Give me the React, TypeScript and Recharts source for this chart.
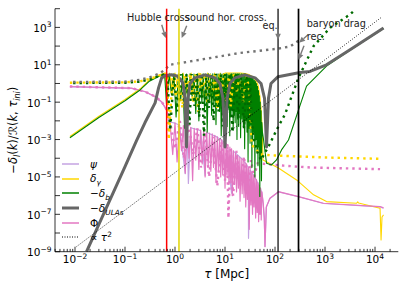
import React from 'react';
import {
  ComposedChart,
  Line,
  XAxis,
  YAxis,
  ReferenceLine,
  ReferenceDot,
  Legend,
} from 'recharts';

type Pt = [number, number];

const FONT = '"DejaVu Sans", sans-serif';

const PINK = '#e377c2';
const LAVENDER = '#c4a3e2';
const GOLD = '#ffd700';
const GREEN = '#008000';
const DARK_GREEN = '#006a00';
const GRAY = '#666666';
const GRAY_DOT = '#737373';
const ARROW = '#7a7a7a';

// tau [Mpc] vs transfer function

// -delta_ULAs, first mode (thick gray)
const ulaK1: Pt[] = [
  [0.017, 1e-9], [0.1, 3.6e-5], [0.17, 8.7e-4], [0.25, 7.9e-3], [0.4, 0.091], [0.47, 0.6],
  [0.54, 2.0], [0.65, 2.7], [0.85, 2.9], [1.1, 2.5], [1.3, 1.6], [1.45, 1.0], [1.58, 0.16],
  [1.7, 4e-4], [1.82, 0.16], [2.0, 1.0], [2.5, 2.0], [4.0, 2.9], [6.3, 2.0], [7.9, 1.0],
  [9.1, 0.16], [10, 4e-4], [11, 0.16], [12.6, 1.0], [15.8, 2.0], [25, 2.9], [40, 2.0],
  [52.5, 1.0], [61.7, 0.16], [67.6, 4e-4], [74, 0.16], [83, 1.0], [115, 2.3], [316, 3.9],
  [500, 4.4], [1070, 10], [3160, 63], [14800, 930],
];

// -delta_b, first mode (green)
const baryonK1: Pt[] = [
  [0.0079, 1.25e-3], [0.03, 1.5e-2], [0.1, 0.12], [0.2, 0.45], [0.3, 1.26], [0.45, 2.2],
  [0.55, 2.8], [0.62, 3.1],
  [0.68, 0.063], [0.76, 3.2], [0.85, 0.25], [0.95, 3.3], [1.05, 0.016], [1.17, 3.2],
  [1.3, 0.126], [1.42, 3.3], [1.55, 0.004], [1.7, 3.2], [1.85, 0.079], [2.0, 3.3],
  [2.2, 0.2], [2.4, 3.2], [2.6, 0.025], [2.8, 3.3], [3.0, 0.01], [3.2, 3.2], [3.45, 0.1],
  [3.65, 3.3], [3.9, 0.04], [4.15, 3.2], [4.4, 0.0025], [4.65, 3.3], [4.9, 0.126],
  [5.15, 3.2], [5.4, 0.02], [5.7, 3.3], [6.0, 0.063], [6.3, 3.2], [6.6, 0.0063], [6.9, 3.3],
  [7.2, 0.1], [7.5, 3.2], [7.8, 0.032], [8.1, 3.3], [8.4, 0.0016], [8.7, 3.2], [9.0, 0.05],
  [9.3, 3.3], [9.6, 0.016],
  [10, 3.2], [10.35, 0.025], [10.7, 3.3], [11.05, 5e-3], [11.4, 3.2], [11.75, 0.05],
  [12.1, 3.3], [12.45, 1.6e-3], [12.8, 3.2], [13.15, 0.016], [13.5, 3.3], [13.85, 0.04],
  [14.2, 3.2], [14.55, 3.2e-3], [14.9, 3.3], [15.25, 0.02], [15.6, 3.2], [15.95, 7.9e-3],
  [16.3, 3.3], [16.65, 0.032], [17, 3.2], [17.35, 1e-3], [17.7, 3.3], [18.05, 0.0126],
  [18.4, 3.2], [18.75, 5e-3], [19.1, 3.3], [19.45, 0.025], [19.8, 3.2], [20.5, 1.26e-3],
  [21.2, 3.3], [21.9, 0.0126], [22.6, 3.2], [23.3, 5e-3], [24, 3.3], [24.7, 3.2e-4],
  [25.4, 3.2], [26.1, 0.01], [26.8, 3.0], [27.5, 2.5e-3], [28.2, 2.8], [28.9, 6.3e-5],
  [29.6, 2.6], [30.3, 4e-3], [31, 2.5], [31.7, 6.3e-4], [32.4, 2.3], [33.1, 6.3e-3],
  [33.8, 2.1], [34.5, 3.2e-5], [35.2, 2.0], [35.9, 1e-3], [36.6, 1.8], [37.6, 2.5e-3],
  [38.6, 1.5], [39.6, 1e-5], [40.6, 1.25], [41.6, 1e-3], [42.6, 1.0], [43.6, 2.5e-4],
  [44.6, 0.7], [45.6, 4e-5], [46.6, 0.42], [47.6, 4e-4], [48.6, 0.22], [49.6, 8.9e-7],
  [50.6, 0.1], [51.6, 1e-4], [52.6, 0.035], [53.6, 6.3e-6], [54.6, 0.008],
  [56, 2.5e-3], [58.9, 1e-3], [67.6, 5.4e-5], [85, 4.4e-5], [107, 8.1e-5],
  [135, 2.8e-4], [186, 9.5e-4], [295, 0.039], [427, 0.72], [1070, 8.5], [3160, 60],
  [14800, 880],
];

// delta_gamma, first mode (gold)
const photonK1: Pt[] = [
  [0.0079, 1.45e-3], [0.03, 1.75e-2], [0.1, 0.14], [0.2, 0.52], [0.3, 1.45], [0.45, 2.5],
  [0.55, 3.2], [0.62, 3.6], [0.7, 0.4], [0.78, 3.6], [0.9, 0.3], [1.0, 3.6], [1.25, 0.1],
  [1.45, 3.6], [1.8, 0.2], [2.1, 3.6], [2.6, 0.08], [3.0, 3.6], [3.9, 0.15], [4.5, 3.6],
  [5.4, 0.1], [6.2, 3.6], [7.2, 0.05], [8.0, 3.6], [9.0, 0.12], [10, 3.6], [20, 3.6],
  [25, 3.4], [30, 3.0], [35, 2.4], [40, 1.6], [43, 1.2], [46, 0.75], [50, 0.2], [53, 0.035],
  [55.5, 3e-3], [57.5, 8.1e-5], [117, 3e-5], [270, 6.9e-6], [590, 1.1e-6], [1070, 4.8e-7],
  [4270, 3.9e-7], [4500, 4.6e-7], [4700, 4.0e-7], [12600, 2.1e-7], [13200, 4.3e-9],
  [13800, 7.2e-8], [14800, 9.3e-8],
];

// Phi, first mode (pink)
const phiK1: Pt[] = [
  [0.0079, 0.69], [0.135, 0.56], [0.25, 0.37], [0.4, 0.2], [0.54, 0.107], [0.68, 0.039],
  [0.79, 9.1e-3], [0.9, 1.58e-4], [1.0, 7.9e-3], [1.1, 6.3e-5], [1.22, 6.3e-3], [1.35, 2.5e-4],
  [1.47, 5.6e-3], [1.6, 1.58e-5], [1.75, 5.0e-3], [1.9, 1e-4], [2.07, 4.5e-3], [2.25, 6.3e-6],
  [2.42, 4.0e-3], [2.6, 7.9e-5], [2.8, 3.5e-3], [3.0, 2.5e-5], [3.25, 3.2e-3], [3.5, 5.0e-5],
  [3.75, 2.8e-3], [4.0, 1e-5], [4.3, 2.5e-3], [4.6, 4.0e-5], [4.9, 2.2e-3], [5.2, 2.0e-5],
  [5.55, 2.0e-3], [5.9, 3.2e-5], [6.25, 1.66e-3], [6.6, 5.0e-6], [7.0, 1.4e-3], [7.4, 2.0e-5],
  [7.8, 1.12e-3], [8.2, 1e-5], [8.6, 1e-3], [9.0, 1.26e-5], [9.5, 7.9e-4], [10, 2.5e-6],
  [10.5, 6.3e-4], [11, 1e-5], [11.5, 5.0e-4], [12, 4.0e-6], [12.5, 4.0e-4], [13, 6.3e-6],
  [13.5, 3.2e-4], [14, 1e-6], [14.7, 2.5e-4], [15.5, 4.0e-6], [16.2, 1.9e-4], [17, 1.58e-6],
  [17.7, 1.4e-4], [18.5, 2.5e-6], [19.2, 1.12e-4], [20, 5.0e-7], [21, 1e-4], [22, 1.26e-6],
  [23, 8.3e-5], [24, 7.9e-7], [25, 6.3e-5], [26, 2.5e-7], [27, 5.0e-5], [28, 6.3e-7],
  [29.2, 3.5e-5], [30.5, 1.58e-8], [31.7, 2.5e-5], [33, 3.2e-7], [34.2, 1.8e-5], [35.5, 1e-7],
  [36.7, 1.26e-5], [38, 2.5e-7], [39.5, 1e-5], [41, 6.3e-8], [42.5, 7.1e-6], [44, 1.26e-7],
  [45.5, 5.0e-6], [47, 4.0e-8], [48.5, 3.5e-6], [50, 1e-7], [51.5, 2.5e-6], [53, 5.0e-8],
  [54.5, 1.58e-6], [58, 4.0e-7], [61, 6.3e-8], [63, 1.86e-9], [67, 2.5e-7], [79, 7.2e-7],
  [117, 1.62e-6], [295, 8.9e-7], [930, 3.9e-7], [12600, 2.6e-7], [14800, 2.2e-7],
];

// psi, first mode (lavender, mostly under Phi)
const psiK1: Pt[] = [
  [0.0079, 0.66], [0.135, 0.54], [0.25, 0.36], [0.4, 0.19], [0.54, 0.1], [0.68, 0.037],
  [0.79, 8.7e-3], [1.0, 7.5e-3], [1.22, 6e-3], [1.6, 1.5e-5], [1.75, 4.8e-3], [1.85, 4.5e-6],
  [2.07, 4.3e-3], [3.25, 3e-3], [4.0, 1.2e-5], [4.3, 2.4e-3], [7.0, 1.35e-3], [10.5, 6e-4],
  [13.5, 1.35e-6], [14.7, 2.4e-4], [23, 8e-5], [29.2, 3.3e-5], [29.5, 5.2e-9], [31.7, 2.4e-5],
  [42.5, 6.8e-6], [54.5, 1.5e-6], [58, 3.8e-7], [61, 6e-8], [63, 1.9e-9], [67, 2.4e-7],
  [79, 7e-7], [117, 1.58e-6], [295, 8.7e-7], [930, 3.8e-7], [12600, 2.5e-7], [14800, 2.1e-7],
];

// second mode (dotted curves)
const phiK2: Pt[] = [
  [0.0079, 0.69], [0.135, 0.56], [0.25, 0.37], [0.4, 0.2], [0.54, 0.107], [0.68, 0.04],
  [0.8, 8e-3], [1.0, 3.2e-4], [1.25, 1e-2], [1.5, 1e-4], [1.9, 6.3e-3], [2.3, 1.58e-4],
  [2.8, 4e-3], [3.3, 3.2e-5], [4.0, 2.5e-3], [4.8, 1e-5], [5.8, 1.4e-3], [7.0, 3.2e-6],
  [8.5, 7.9e-4], [10, 6.3e-6], [11, 6.3e-4], [11.7, 6.3e-8], [13, 4e-4], [14.5, 1e-6],
  [17, 2.5e-4], [20, 3.2e-6], [24, 1.26e-4], [28, 1e-6], [33, 7.9e-5], [38, 1e-5],
  [45, 5.4e-5], [60, 5e-5], [150, 4e-5], [500, 3.2e-5], [12600, 2.6e-5],
];

const photonK2: Pt[] = [
  [0.0079, 1.1], [0.1, 1.15], [0.2, 1.3], [0.32, 1.8], [0.45, 2.5], [0.6, 3.2], [0.7, 3.5],
  [0.75, 1e-3], [0.9, 3.2], [1.05, 0.2], [1.2, 3.2], [1.4, 0.05], [1.6, 3.2], [1.8, 0.5],
  [2.0, 3.2], [2.3, 0.1], [2.6, 3.2], [2.9, 0.03], [3.2, 3.5], [3.6, 0.4], [4.0, 3.5],
  [4.5, 0.08], [5.0, 3.5], [5.6, 0.3], [6.2, 3.5], [7.0, 0.05], [7.8, 3.5], [8.6, 0.4],
  [9.5, 3.5], [10.5, 0.1], [12, 3.5], [13, 0.06], [15, 3.5], [17, 0.3], [20, 3.5],
  [23, 0.1], [27, 3.2], [31, 0.3], [33, 3e-3], [34.2, 5.2e-4], [39.8, 3.5e-4], [50, 1.6e-4],
  [100, 1.4e-4], [1000, 1.1e-4], [12600, 9.3e-5],
];

const baryonK2: Pt[] = [
  [0.0079, 1.05], [0.1, 1.1], [0.2, 1.25], [0.32, 1.7], [0.45, 2.4], [0.6, 3.0], [0.7, 3.1],
  [0.8, 3.2e-3], [0.95, 3.2], [1.12, 0.032], [1.3, 3.2], [1.5, 0.126], [1.7, 3.2],
  [1.95, 6.3e-3], [2.15, 3.2], [2.45, 0.063], [2.75, 3.2], [3.05, 0.016], [3.4, 3.2],
  [3.8, 1.6e-3], [4.2, 3.2], [4.75, 0.05], [5.3, 3.2], [5.9, 0.01], [6.6, 3.2], [7.4, 0.032],
  [8.2, 3.2], [9.0, 5e-3], [10, 3.2], [11, 0.025], [12.5, 3.2], [14, 2.5e-3], [16, 3.2],
  [18.5, 0.0126], [21, 3.2], [24, 4e-3], [27, 2.8], [30, 7.9e-3], [32, 1.0], [34, 0.01],
  [38, 1e-3], [44.7, 2e-4], [52.5, 7.9e-5], [63, 2e-4], [74, 4.2e-4], [100, 2.2e-3],
  [117, 5e-3], [158, 0.022], [295, 2.0], [590, 100], [1260, 950], [3160, 4900], [4100, 9500],
];

const ulaK2: Pt[] = [
  [0.0079, 1.2], [0.1, 1.26], [0.2, 1.58], [0.32, 2.2], [0.5, 3.5], [0.63, 5.6], [0.79, 10],
  [3.16, 18.6], [20, 43], [107, 71], [200, 95], [300, 200],
];

const tauSquared: Pt[] = [[0.0107, 1.86e-9], [13500, 3500]];

// vertical markers (tau)
const HUBBLE_CROSS = 0.68;
const SOUND_CROSS = 1.2;
const EQUALITY = 115;
const RECOMBINATION = 295;

const annotations = [
  { text: 'Hubble cross', x: 0.11, y: 2270 },
  { text: 'sound hor. cross.', x: 1.58, y: 2270 },
  { text: 'eq.', x: 56, y: 800 },
  { text: 'baryon drag', x: 430, y: 1020 },
  { text: 'rec.', x: 430, y: 219 },
];

const arrows: { from: Pt; to: Pt }[] = [
  { from: [0.542, 1387], to: [0.652, 269] },
  { from: [1.714, 1230], to: [1.36, 269] },
  { from: [115, 800], to: [115, 219] },
  { from: [457, 405], to: [302, 151] },
  { from: [380, 104], to: [295, 18.6] },
];

const X_DOMAIN: [number, number] = [0.00398, 29200];
const Y_DOMAIN: [number, number] = [1e-9, 1e4];
const xMajor = [1e-2, 1e-1, 1, 10, 100, 1000, 10000];
const yDecades = [1e-9, 1e-8, 1e-7, 1e-6, 1e-5, 1e-4, 1e-3, 1e-2, 1e-1, 1, 10, 100, 1000, 10000];

const xMinor: number[] = [];
for (const d of [1e-3, ...xMajor]) {
  for (let m = 2; m <= 9; m++) {
    const v = d * m;
    if (v >= X_DOMAIN[0] && v <= X_DOMAIN[1]) xMinor.push(v);
  }
}
const xTicks = [...xMajor, ...xMinor].sort((a, b) => a - b);

const toRows = (pts: Pt[]) => pts.map(([x, y]) => ({ x, y }));

const isDecade = (v: number) => Math.abs(Math.log10(v) - Math.round(Math.log10(v))) < 1e-6;
const expText = (e: number) => (e < 0 ? `\u2212${-e}` : `${e}`);

const Pow10 = ({ x, y, e, anchor }: { x: number; y: number; e: number; anchor: string }) => (
  <text x={x} y={y} textAnchor={anchor} fontFamily={FONT} fontSize={10.5} fill="#000">
    10
    <tspan dy={-4.5} fontSize={7.5}>{expText(e)}</tspan>
  </text>
);

const BottomTick = ({ x, y, payload }: any) => {
  const v = payload.value;
  const major = isDecade(v);
  return (
    <g>
      <line x1={x} x2={x} y1={y} y2={y - (major ? 5 : 2.8)} stroke="#000" strokeWidth={0.8} />
      {major && <Pow10 x={x} y={y + 11.5} e={Math.round(Math.log10(v))} anchor="middle" />}
    </g>
  );
};

const TopTick = ({ x, y, payload }: any) => {
  const major = isDecade(payload.value);
  return <line x1={x} x2={x} y1={y} y2={y + (major ? 5 : 2.8)} stroke="#000" strokeWidth={0.8} />;
};

const LeftTick = ({ x, y, payload }: any) => {
  const e = Math.round(Math.log10(payload.value));
  return (
    <g>
      <line x1={x} x2={x + 5} y1={y} y2={y} stroke="#000" strokeWidth={0.8} />
      {Math.abs(e) % 2 === 1 && <Pow10 x={x - 3.5} y={y + 4.5} e={e} anchor="end" />}
    </g>
  );
};

const RightTick = ({ x, y }: any) => (
  <line x1={x} x2={x - 5} y1={y} y2={y} stroke="#000" strokeWidth={0.8} />
);

const XLabel = (props: any) => {
  const vb = props.viewBox || { x: 55, y: 251.7, width: 343.3 };
  return (
    <text x={vb.x + vb.width / 2} y={vb.y + 26.5} textAnchor="middle" fontFamily={FONT} fontSize={12} fill="#000">
      <tspan fontStyle="italic">τ</tspan> [Mpc]
    </text>
  );
};

const YLabel = (props: any) => {
  const vb = props.viewBox || { x: 0, y: 8.7, height: 243 };
  const cx = vb.x + 17.5;
  const cy = vb.y + vb.height / 2;
  return (
    <text
      x={cx}
      y={cy}
      textAnchor="middle"
      transform={`rotate(-90, ${cx}, ${cy})`}
      fontFamily={FONT}
      fontSize={11.5}
      fill="#000"
    >
      {'\u2212'}
      <tspan fontStyle="italic">δ</tspan>
      <tspan dy={3} fontSize={8} fontStyle="italic">l</tspan>
      <tspan dy={-3}>(</tspan>
      <tspan fontStyle="italic">k</tspan>
      <tspan>)/ℛ(</tspan>
      <tspan fontStyle="italic">k</tspan>
      <tspan>, </tspan>
      <tspan fontStyle="italic">τ</tspan>
      <tspan dy={3} fontSize={8} fontStyle="italic">ini</tspan>
      <tspan dy={-3}>)</tspan>
    </text>
  );
};

const arrowShape = (p: any) => {
  const { x1, y1, x2, y2 } = p;
  const a = Math.atan2(y2 - y1, x2 - x1);
  const L = 6;
  const W = 2.8;
  const bx = x2 - L * Math.cos(a);
  const by = y2 - L * Math.sin(a);
  const pts = `${x2},${y2} ${bx - W * Math.sin(a)},${by + W * Math.cos(a)} ${bx + W * Math.sin(a)},${by - W * Math.cos(a)}`;
  return (
    <g>
      <line x1={x1} y1={y1} x2={bx} y2={by} stroke={ARROW} strokeWidth={1.4} />
      <polygon points={pts} fill={ARROW} />
    </g>
  );
};

const textShape = (text: string) => (p: any) => (
  <text x={p.cx} y={p.cy} fontFamily={FONT} fontSize={9.7} fill="#222">
    {text}
  </text>
);

const sub = (s: string) => (
  <sub style={{ fontSize: '0.7em', lineHeight: 0, fontStyle: 'italic' }}>{s}</sub>
);

const legendItems = [
  { name: 'psi', color: LAVENDER, width: 1.5, dash: undefined, label: <i>ψ</i> },
  { name: 'photon', color: GOLD, width: 1.5, dash: undefined, label: <><i>δ</i>{sub('γ')}</> },
  { name: 'baryon', color: GREEN, width: 1.5, dash: undefined, label: <>−<i>δ</i>{sub('b')}</> },
  { name: 'ula', color: GRAY, width: 3, dash: undefined, label: <>−<i>δ</i>{sub('ULAs')}</> },
  { name: 'phi', color: PINK, width: 1.5, dash: undefined, label: <>Φ</> },
  { name: 'tau2', color: '#000', width: 1, dash: '1 1.5', label: <>∝ <i>τ</i><sup style={{ fontSize: '0.7em', lineHeight: 0 }}>2</sup></> },
];

const renderLegend = () => (
  <div style={{ fontFamily: FONT, fontSize: 10.5, color: '#000' }}>
    {legendItems.map((it) => (
      <div key={it.name} style={{ display: 'flex', alignItems: 'center', height: 14.7 }}>
        <svg width={17} height={6} style={{ display: 'block' }}>
          <line x1={0} y1={3} x2={17} y2={3} stroke={it.color} strokeWidth={it.width} strokeDasharray={it.dash} />
        </svg>
        <span style={{ marginLeft: 11, lineHeight: 1 }}>{it.label}</span>
      </div>
    ))}
  </div>
);

const common = {
  type: 'linear' as const,
  dataKey: 'y',
  dot: false,
  activeDot: false,
  isAnimationActive: false,
  legendType: 'none' as const,
  strokeLinejoin: 'round' as const,
};

export default function App() {
  return (
    <div style={{ width: 407, height: 291, background: '#fff' }}>
      <style>{'body{margin:0}'}</style>
      <ComposedChart width={407} height={291} margin={{ top: 8.7, right: 8.7, bottom: 0, left: 0 }}>
        <XAxis
          dataKey="x"
          type="number"
          scale="log"
          domain={X_DOMAIN}
          allowDataOverflow
          ticks={xTicks}
          interval={0}
          height={39.3}
          tickSize={0}
          tickMargin={0}
          tickLine={false}
          tick={BottomTick}
          axisLine={{ stroke: '#000', strokeWidth: 0.8 }}
          label={XLabel}
        />
        <XAxis
          xAxisId="top"
          orientation="top"
          dataKey="x"
          type="number"
          scale="log"
          domain={X_DOMAIN}
          allowDataOverflow
          ticks={xTicks}
          interval={0}
          height={0}
          tickSize={0}
          tickMargin={0}
          tickLine={false}
          tick={TopTick}
          axisLine={{ stroke: '#000', strokeWidth: 0.8 }}
        />
        <YAxis
          type="number"
          scale="log"
          domain={Y_DOMAIN}
          allowDataOverflow
          ticks={yDecades}
          interval={0}
          width={55}
          tickSize={0}
          tickMargin={0}
          tickLine={false}
          tick={LeftTick}
          axisLine={{ stroke: '#000', strokeWidth: 0.8 }}
          label={YLabel}
        />
        <YAxis
          yAxisId="right"
          orientation="right"
          type="number"
          scale="log"
          domain={Y_DOMAIN}
          allowDataOverflow
          ticks={yDecades}
          interval={0}
          width={0}
          tickSize={0}
          tickMargin={0}
          tickLine={false}
          tick={RightTick}
          axisLine={{ stroke: '#000', strokeWidth: 0.8 }}
        />

        <Line {...common} data={toRows(psiK1)} stroke={LAVENDER} strokeWidth={1.2} />
        <Line {...common} data={toRows(photonK1)} stroke={GOLD} strokeWidth={1.1} />
        <Line {...common} data={toRows(phiK1)} stroke={PINK} strokeWidth={1.2} />
        <Line {...common} data={toRows(phiK2)} stroke={PINK} strokeWidth={2.4} strokeDasharray="2.4 4" strokeLinejoin="miter" />
        <Line {...common} data={toRows(baryonK1)} stroke={GREEN} strokeWidth={1.1} />
        <Line {...common} data={toRows(photonK2)} stroke={GOLD} strokeWidth={2.4} strokeDasharray="2.4 4" strokeLinejoin="miter" />
        <Line {...common} data={toRows(baryonK2)} stroke={DARK_GREEN} strokeWidth={2.4} strokeDasharray="2.4 4" strokeDashoffset={3.2} strokeLinejoin="miter" />
        <Line {...common} data={toRows(ulaK1)} stroke={GRAY} strokeWidth={3} />
        <Line {...common} data={toRows(ulaK2)} stroke={GRAY_DOT} strokeWidth={2.4} strokeDasharray="2.4 4" strokeDashoffset={3.2} strokeLinejoin="miter" />
        <Line {...common} data={toRows(tauSquared)} stroke="#000" strokeWidth={0.8} strokeDasharray="1 1.5" />

        <ReferenceLine x={HUBBLE_CROSS} stroke="#ff0000" strokeWidth={1.5} />
        <ReferenceLine x={SOUND_CROSS} stroke="#e0d400" strokeWidth={1.5} />
        <ReferenceLine x={EQUALITY} stroke="#000" strokeWidth={1.2} />
        <ReferenceLine x={RECOMBINATION} stroke="#000" strokeWidth={1.7} />

        {arrows.map((a, i) => (
          <ReferenceLine
            key={`arrow-${i}`}
            segment={[{ x: a.from[0], y: a.from[1] }, { x: a.to[0], y: a.to[1] }]}
            shape={arrowShape}
          />
        ))}
        {annotations.map((t) => (
          <ReferenceDot key={t.text} x={t.x} y={t.y} r={0} shape={textShape(t.text)} />
        ))}

        <Legend
          layout="vertical"
          align="center"
          verticalAlign="middle"
          content={renderLegend}
          wrapperStyle={{ left: 62, top: 156.7, width: 'auto' }}
        />
      </ComposedChart>
    </div>
  );
}
